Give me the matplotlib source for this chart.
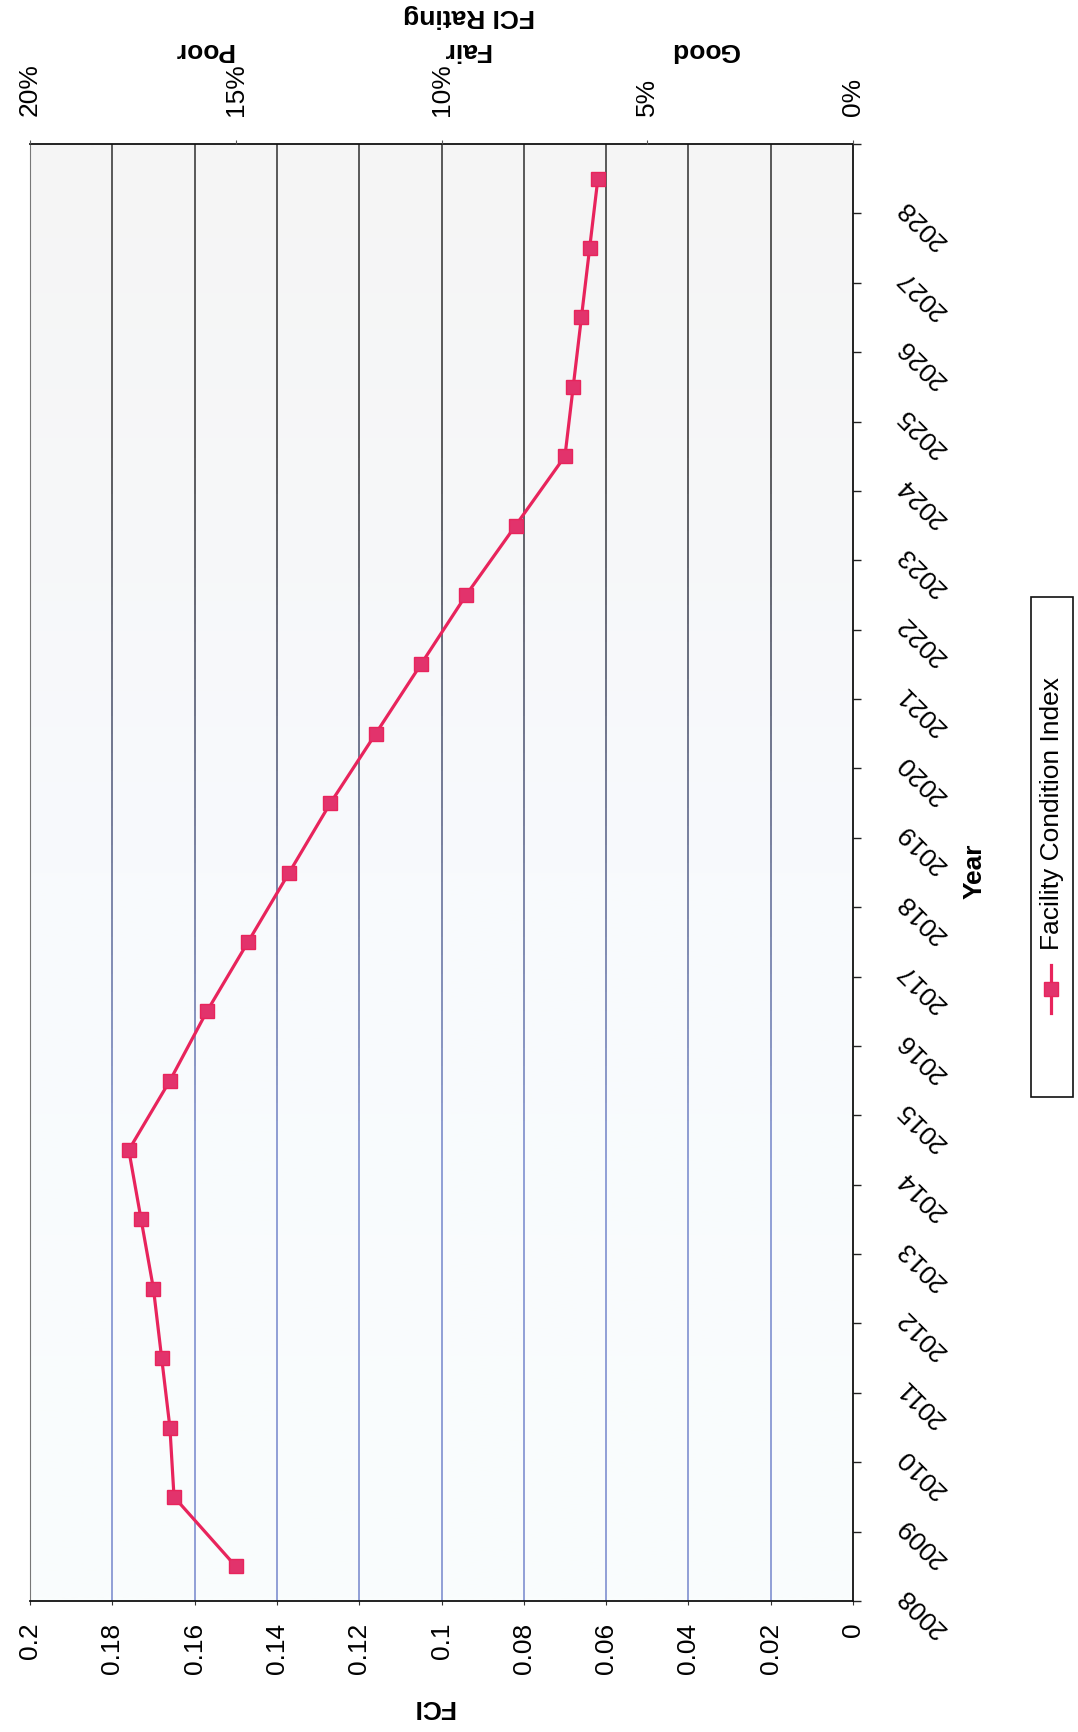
import numpy as np
import matplotlib
matplotlib.use("Agg")
import matplotlib.pyplot as plt
from matplotlib.collections import LineCollection
from matplotlib.patches import Rectangle
from matplotlib.lines import Line2D
from matplotlib.transforms import blended_transform_factory
import matplotlib.colors as mcolors

plt.rcParams['font.family'] = ['Liberation Sans', 'DejaVu Sans']

# Facility Condition Index by year
years = list(range(2008, 2029))
fci = [0.150, 0.165, 0.166, 0.168, 0.170, 0.173, 0.176, 0.166, 0.157, 0.147,
       0.137, 0.127, 0.116, 0.105, 0.094, 0.082, 0.070, 0.068, 0.066, 0.064, 0.062]

fci_ticks = [0, 0.02, 0.04, 0.06, 0.08, 0.1, 0.12, 0.14, 0.16, 0.18, 0.2]
fci_tick_labels = ['0', '0.02', '0.04', '0.06', '0.08', '0.1', '0.12', '0.14', '0.16', '0.18', '0.2']
pct_ticks = [0, 0.05, 0.10, 0.15, 0.20]
pct_labels = ['0%', '5%', '10%', '15%', '20%']
rating_names = ['Poor', 'Fair', 'Good']
rating_pos = [0.158, 0.094, 0.036]

LINE_COLOR = '#e8245c'
FS = 19

W, H = 1078, 1733
fig = plt.figure(figsize=(W / 100, H / 100), dpi=100)


def fx(px):
    return px / W


def fy(py):
    return 1 - py / H


# page is turned on its side: FCI runs right-to-left, years run upward
ax = fig.add_axes([fx(30), fy(1602), 823 / W, 1457 / H])
ymin, ymax = 2007.5, 2028.5

# soft plot-area fill, slightly grey at the top, faint blue lower down
top_c = np.array(mcolors.to_rgb('#f5f5f5'))
mid_c = np.array(mcolors.to_rgb('#f8fafd'))
bot_c = np.array(mcolors.to_rgb('#fafdfd'))
t = np.linspace(0, 1, 200)[:, None]
grad = np.where(t < 0.5, top_c * (1 - 2 * t) + mid_c * 2 * t,
                mid_c * (2 - 2 * t) + bot_c * (2 * t - 1))
ax.imshow(grad[:, None, :], extent=[0.2, 0, ymin, ymax], aspect='auto',
          origin='upper', zorder=0, interpolation='bilinear')

# gridlines fading from dark at the top to blue-violet at the bottom
dark = np.array(mcolors.to_rgb('#2e2e2e'))
blue = np.array(mcolors.to_rgb('#7486cc'))
ys = np.linspace(ymax, ymin, 80)
segs, cols = [], []
for g in fci_ticks[1:-1]:
    for k in range(len(ys) - 1):
        segs.append([(g, ys[k]), (g, ys[k + 1])])
        f = min(1.0, max(0.0, (k / (len(ys) - 2) - 0.2) / 0.5))
        cols.append(dark * (1 - f) + blue * f)
ax.add_collection(LineCollection(segs, colors=cols, linewidths=1.1, zorder=1))

ax.plot(fci, years, color=LINE_COLOR, lw=2.3, marker='s', ms=10.5,
        mfc='#e2336c', mec=LINE_COLOR, zorder=5, clip_on=False)

ax.set_xlim(0.2, 0)
ax.set_ylim(ymin, ymax)

for side in ['top', 'bottom', 'right']:
    ax.spines[side].set_color('#111111')
    ax.spines[side].set_linewidth(1.3)
ax.spines['left'].set_color('#777777')
ax.spines['left'].set_linewidth(0.8)
ax.spines['left'].set_linestyle((0, (2, 1)))

ax.set_xticks(fci_ticks)
ax.set_xticklabels(fci_tick_labels, rotation=90, fontsize=FS)
ax.tick_params(axis='x', direction='out', length=3, pad=12, color='#333333')

ax.yaxis.tick_right()
ax.set_yticks(np.arange(ymin, ymax + 0.1, 1))
ax.set_yticklabels([])
ax.tick_params(axis='y', direction='out', length=6, width=1, color='#222222')

for yr in years:
    ax.text(1.0486, yr - 0.22, str(yr), transform=ax.get_yaxis_transform(),
            rotation=135, ha='left', va='top', fontsize=FS)

ax.set_xlabel('FCI', rotation=180, fontsize=FS, fontweight='bold')
ax.xaxis.set_label_coords(0.49, -0.0638)

ax.set_ylabel('Year', rotation=90, fontsize=FS, fontweight='bold')
ax.yaxis.set_label_position('right')
ax.yaxis.label.set_va('center')
ax.yaxis.set_label_coords(1.148, 0.5017)

# secondary rating scale along the top
ax2 = ax.twiny()
ax2.set_xlim(0.2, 0)
ax2.set_xticks(pct_ticks)
ax2.set_xticklabels(pct_labels, rotation=90, fontsize=FS)
ax2.tick_params(axis='x', direction='out', length=3, pad=18, color='#555555')
for s in ax2.spines.values():
    s.set_visible(False)

trans = blended_transform_factory(ax.transData, fig.transFigure)
for name, pos in zip(rating_names, rating_pos):
    ax.text(pos, fy(50), name, transform=trans, rotation=180, ha='center',
            va='center', fontsize=FS, fontweight='bold')
fig.text(fx(469), fy(16), 'FCI Rating', rotation=180, ha='center', va='center',
         fontsize=FS, fontweight='bold')

# legend box drawn by hand so its text can run vertically
fig.patches.append(Rectangle((fx(1031), fy(1098)), 42 / W, 500 / H,
                             transform=fig.transFigure, facecolor='white',
                             edgecolor='#111111', lw=1.2))
fig.lines.append(Line2D([fx(1051), fx(1051)], [fy(966), fy(1014)],
                        transform=fig.transFigure, color=LINE_COLOR, lw=2.3))
fig.lines.append(Line2D([fx(1051)], [fy(990)], transform=fig.transFigure,
                        marker='s', ms=10.5, mfc='#e2336c', mec=LINE_COLOR,
                        ls='none'))
fig.text(fx(1052), fy(814), 'Facility Condition Index', rotation=90,
         ha='center', va='center', fontsize=FS)

fig.savefig('out.png', dpi=100)
